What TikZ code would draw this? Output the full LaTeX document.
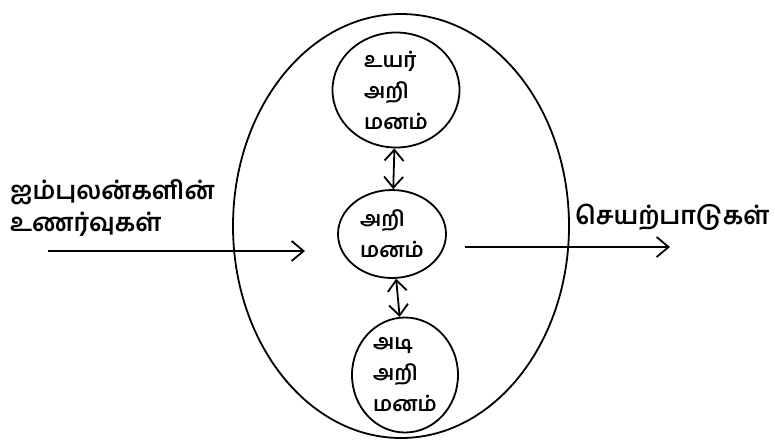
\documentclass[tikz,border=0pt]{standalone}
\usepackage{fontspec}
\newfontfamily\tamil[Script=Tamil]{Hind Madurai}
\usetikzlibrary{shapes.geometric,arrows.meta}
\begin{document}
\begin{tikzpicture}[x=1pt,y=-1pt,
  ink/.style={line width=1.8pt,draw=black},
  layer/.style={ink,ellipse,inner sep=0pt,align=left,
    font=\tamil\bfseries\fontsize{21}{31}\selectfont},
  label/.style={align=left,inner sep=0pt,
    font=\tamil\bfseries\fontsize{25}{32}\selectfont},
  flow/.style={ink,-{Straight Barb[length=12pt,width=20pt]}},
  link/.style={ink,{Straight Barb[length=11pt,width=19pt]}-{Straight Barb[length=11pt,width=19pt]}}]
\useasboundingbox (0,0) rectangle (775,440);
\fill[white] (0,0) rectangle (775,440);

% the whole mind
\node[ink,ellipse,minimum width=336pt,minimum height=424pt] (mind) at (401,226) {};

% three levels of the mind
\node[layer,minimum width=127pt,minimum height=115pt] (upper) at (396,90)
  {உயர்\\அறி\\மனம்};
\node[layer,minimum width=108pt,minimum height=88pt] (middle) at (392,234)
  {அறி\\மனம்};
\node[layer,minimum width=106pt,minimum height=115pt] (lower) at (405,375)
  {அடி\\அறி\\மனம்};

\draw[link] (upper) -- (middle);
\draw[link] (middle) -- (lower);

% input from the senses
\node[label,anchor=west] (senses) at (10,208) {ஐம்புலன்களின்\\உணர்வுகள்};
\coordinate (inStart) at (48,251);
\coordinate (inEnd) at (305,251);
\draw[flow] (inStart) -- (inEnd);

% output actions
\node[label,anchor=west] (actions) at (575,217) {செயற்பாடுகள்};
\coordinate (outStart) at (465,247);
\coordinate (outEnd) at (670,247);
\draw[flow] (outStart) -- (outEnd);
\end{tikzpicture}
\end{document}
